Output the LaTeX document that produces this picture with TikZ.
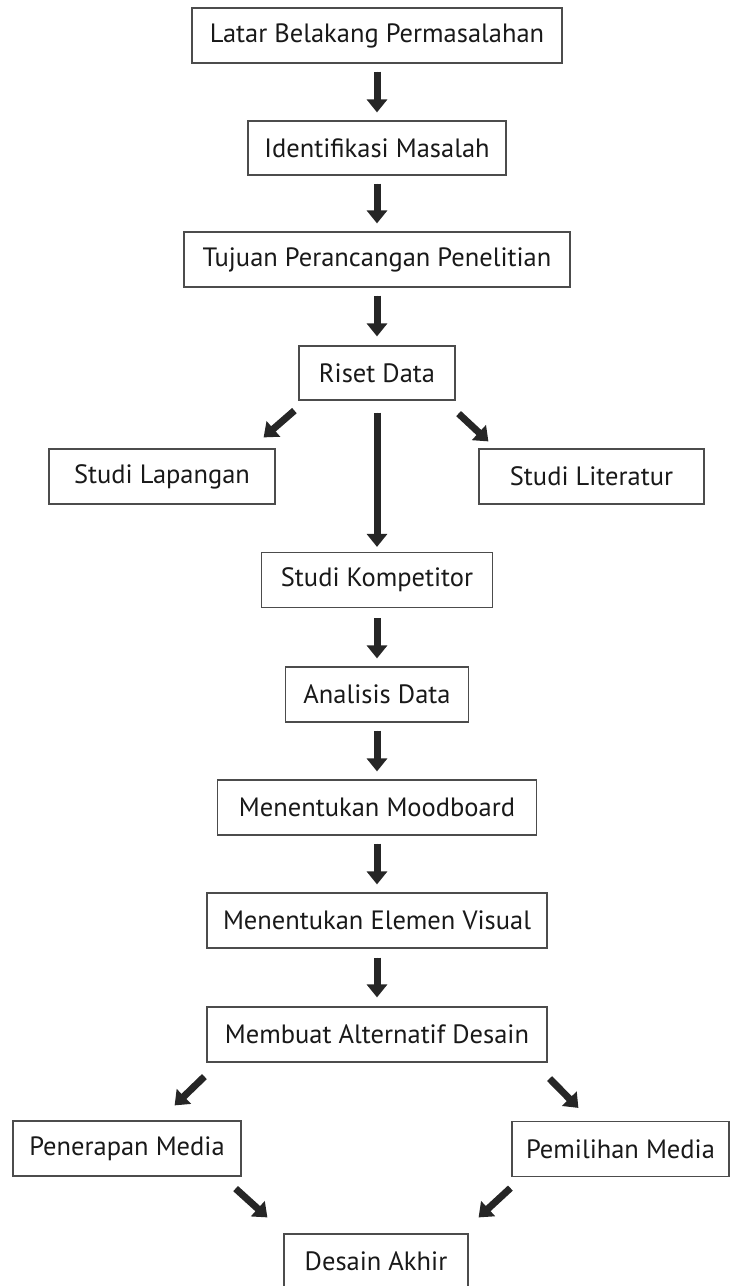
\documentclass[tikz,border=0pt]{standalone}
\usepackage{fontspec}
\setmainfont{PT Sans}
\usetikzlibrary{arrows.meta}

\begin{document}
\begin{tikzpicture}[x=1pt, y=-1pt,
	kotak/.style={draw=black!70, line width=1.2pt, rectangle, minimum height=55pt, inner sep=0pt, text=black!90, font=\fontsize{26.5}{30}\selectfont},
	panah/.style={-{Triangle[length=13pt, width=20pt]}, line width=7pt, draw=black!85, fill=black!85, shorten <=8pt, shorten >=8pt}]
		%%%%% START %%%%%
		
		\useasboundingbox (0, 0) rectangle (731, 1286);
		
		\node[kotak, minimum width=370pt] (latar) at (377, 35.5) {Latar Belakang Permasalahan};
		\node[kotak, minimum width=258pt, minimum height=54pt] (identifikasi) at (377, 148) {Identifikasi Masalah};
		\node[kotak, minimum width=386pt] (tujuan) at (377, 259.5) {Tujuan Perancangan Penelitian};
		\node[kotak, minimum width=156pt, minimum height=54pt] (riset) at (377, 373) {Riset Data};
		
		\node[kotak, minimum width=226pt] (lapangan) at (162, 476.5) {Studi Lapangan};
		\node[kotak, minimum width=225pt] (literatur) at (591.5, 476.5) {Studi Literatur};
		\node[kotak, minimum width=231pt] (kompetitor) at (377, 580) {Studi Kompetitor};
		
		\node[kotak, minimum width=183pt] (analisis) at (377, 694.5) {Analisis Data};
		\node[kotak, minimum width=319pt] (moodboard) at (377, 807.5) {Menentukan Moodboard};
		\node[kotak, minimum width=340pt] (elemen) at (377, 920.5) {Menentukan Elemen Visual};
		\node[kotak, minimum width=340pt] (membuat) at (377, 1034.5) {Membuat Alternatif Desain};
		
		\node[kotak, minimum width=228pt] (penerapan) at (127, 1148.5) {Penerapan Media};
		\node[kotak, minimum width=217pt] (pemilihan) at (620.5, 1149) {Pemilihan Media};
		\node[kotak, minimum width=184pt] (desain) at (376, 1261.5) {Desain Akhir};
		
		\draw[panah] (latar) -- (identifikasi);
		\draw[panah] (identifikasi) -- (tujuan);
		\draw[panah, shorten >=9pt] (tujuan) -- (riset);
		\draw[panah, shorten <=12pt, shorten >=5pt] (riset) -- (kompetitor);
		\draw[panah, shorten <=10pt] (kompetitor) -- (analisis);
		\draw[panah] (analisis) -- (moodboard);
		\draw[panah] (moodboard) -- (elemen);
		\draw[panah, shorten <=9pt, shorten >=9pt] (elemen) -- (membuat);
		
		\draw[panah, shorten <=0pt, shorten >=0pt] ([shift={(-4, 10)}]riset.south west) -- ([shift={(-12, -11)}]lapangan.north east);
		\draw[panah, shorten <=0pt, shorten >=0pt] ([shift={(3, 13)}]riset.south east) -- ([shift={(10, -7)}]literatur.north west);
		
		\draw[panah, shorten <=0pt, shorten >=0pt] ([shift={(-2, 14)}]membuat.south west) -- ([shift={(-67, -15)}]penerapan.north east);
		\draw[panah, shorten <=0pt, shorten >=0pt] ([shift={(2, 16)}]membuat.south east) -- ([shift={(67, -13)}]pemilihan.north west);
		
		\draw[panah, shorten <=0pt, shorten >=0pt] ([shift={(-6, 12)}]penerapan.south east) -- ([shift={(-16, -16)}]desain.north west);
		\draw[panah, shorten <=0pt, shorten >=0pt] ([shift={(-1, 11)}]pemilihan.south west) -- ([shift={(10, -16)}]desain.north east);
		
		%%%%% END %%%%%
\end{tikzpicture}
\end{document}
